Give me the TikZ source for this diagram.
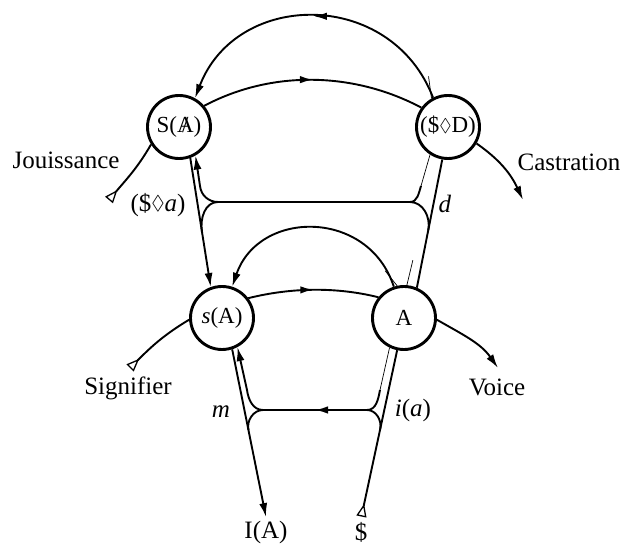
\documentclass[tikz,border=0pt]{standalone}
\usepackage{fontspec}
\setmainfont{Liberation Serif}
\usepackage{amssymb}
\usetikzlibrary{arrows.meta,decorations.markings,calc}

% barred A and the lozenge
\newcommand{\barA}{\ooalign{A\cr\hidewidth/\hidewidth}}
\newcommand{\lozen}{\raisebox{0.08em}{\scalebox{0.8}{$\Diamond$}}}

\tikzset{
  ring/.style={circle, draw, line width=2.9pt, minimum size=63pt, inner sep=0pt,
    font=\fontsize{23}{26}\selectfont},
  lbl/.style={font=\fontsize{25}{30}\selectfont},
  vec/.style={line width=1.9pt},
  wisp/.style={line width=0.7pt},
  arr/.style={-{Latex[length=14pt,width=8pt]}},
  tri/.style={{Triangle[open,reversed,length=13pt,width=10pt,line width=1.3pt]}-},
  midarrow/.style={postaction={decorate},
    decoration={markings,mark=at position 0.5 with {\arrow{Latex[length=13pt,width=7.5pt]}}}}
}

\begin{document}
\begin{tikzpicture}[x=1pt,y=1pt]
\useasboundingbox (0,0) rectangle (627,546);

% Places (upper and lower pair)
\node[ring] (SAbar) at (179,419) {S(\barA)};
\node[ring] (SD)    at (448,419) {(\$\lozen D)};
\node[ring] (sA)    at (222,228) {\textit{s}(A)};
\node[ring] (A)     at (404,228) {A};

% Outer labels
\node[lbl] (jouis)  at (66,386)  {Jouissance};
\node[lbl] (castr)  at (569,384) {Castration};
\node[lbl] (signif) at (128,158) {Signifier};
\node[lbl] (voice)  at (497,159) {Voice};
\node[lbl] (IA)     at (266,14)  {I(A)};
\node[lbl] (dol)    at (361,14)  {\$};

% Labels on the vectors
\node[lbl] (lpa) at (158,341) {(\$\lozen\textit{a})};
\node[lbl] (ld)  at (445,342) {\textit{d}};
\node[lbl] (lm)  at (221,134) {\textit{m}};
\node[lbl] (lia) at (413,136) {\textit{i}(\textit{a})};

% Free ends
\coordinate (jtri) at (109,346);
\coordinate (stri) at (130,178);
\coordinate (cend) at (523,346);
\coordinate (vend) at (498,178);

% Junctions (upper and lower crossbar)
\coordinate (ju1) at (218,344);
\coordinate (ju2) at (410,344);
\coordinate (ju3) at (263,136);
\coordinate (ju4) at (367,136);
\coordinate (uUL) at (200,360);
\coordinate (uUR) at (421,360);
\coordinate (uLL) at (247,156);
\coordinate (uLR) at (380,156);
\coordinate (m1) at ($(SAbar.-70)!0.57!(sA.110)$);
\coordinate (m2) at ($(A.67)!0.45!(SD.260)$);
\coordinate (m3) at ($(sA.-72)!0.48!(IA.north)$);
\coordinate (m4) at ($(A.-102)!0.47!(dol.north)$);

\begin{scope}[vec]
% Upper chain
\draw[tri] (jtri) to[out=50,in=240] (SAbar.212);
\draw[midarrow] (SAbar.40) to[out=28,in=152,looseness=0.9] (SD.144);
\draw[arr] (SD.-30) to[out=-35,in=115] (cend);
\draw[arr,midarrow] (SD.117) to[out=111,in=69,looseness=1.25] (SAbar.61);

% Lower chain
\draw[tri] (stri) to[out=45,in=211] (sA.183);
\draw[midarrow] (sA.37) to[out=14,in=166,looseness=0.86] (A.141);
\draw[arr] (A.-3) to[out=-30,in=125] (vend);
\draw[arr] (A.108) to[out=108,in=71,looseness=1.3] (sA.72);

% Vectors
\draw[arr] (SAbar.-70) -- (sA.110);
\draw[arr] (sA.-72) -- (IA.north);
\draw[tri, shorten <=2pt] (dol.north) -- (A.-102);
\draw (A.67) -- (SD.260);

% Upper crossbar
\draw (ju1) -- (ju2);
\draw[arr] (ju1) to[out=180,in=-84] (uUL) -- (SAbar.-60);
\draw (ju1) to[out=180,in=99] (m1);
\draw (ju2) to[out=0,in=-108] (uUR);
\draw (ju2) to[out=0,in=79] (m2);

% Lower crossbar
\draw[midarrow] (ju4) -- (ju3);
\draw[arr] (ju3) to[out=180,in=-82] (uLL) -- (sA.-62);
\draw (ju3) to[out=180,in=101] (m3);
\draw (ju4) to[out=0,in=-101] (uLR);
\draw (ju4) to[out=0,in=78] (m4);
\end{scope}

% Thin strokes near the places
\draw[wisp] (uUR) -- (SD.237);
\draw[wisp] (uLR) -- (A.244);
\draw[wisp] (A.102) -- ++(-12,15);
\draw[wisp] (A.85) -- ++(6,25);
\draw[wisp] (SD.120) -- ++(-3,22);

\end{tikzpicture}
\end{document}
